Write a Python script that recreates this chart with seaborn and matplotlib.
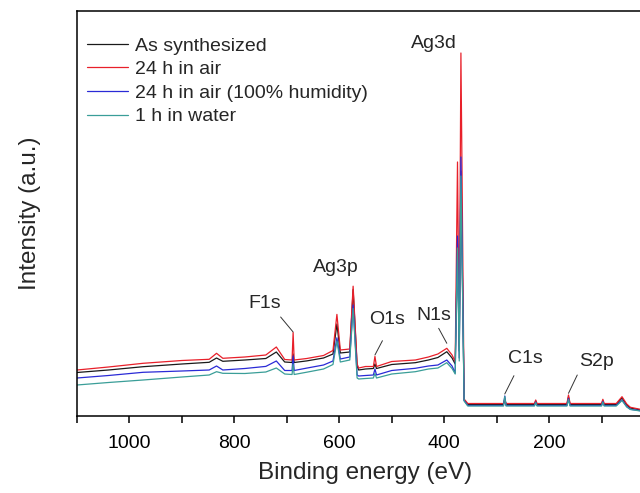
import numpy as np
import pandas as pd
import matplotlib
matplotlib.use("Agg")
import matplotlib.pyplot as plt
from matplotlib.ticker import FixedLocator, NullLocator
import seaborn as sns

# XPS survey spectra (binding energy in eV, intensity in arbitrary units)
energy = [1100, 1040, 974, 900, 848, 834, 822, 780, 740, 720, 704, 690, 688, 686,
          662, 630, 612, 604.5, 598, 580, 573.6, 566, 563, 550, 535, 532, 529,
          500, 455, 430, 412, 395, 385, 379, 374.6, 371.3, 368.1, 362, 355,
          300, 287, 284.5, 282, 228, 225.5, 223, 166, 163, 160, 100, 97.5, 95,
          72, 61, 52, 45, 26, 0]

as_synthesized = [43.5, 46, 49.3, 52, 53.7, 58, 54.7, 56, 57.5, 64, 54, 53.5, 62, 53.5,
                  55.1, 58, 62, 92, 63, 64, 126.4, 50, 46, 47, 47.5, 52, 47.5,
                  51.5, 53.3, 56, 58.5, 64.3, 58, 52, 172, 65, 245, 16, 11.5,
                  11.5, 11.5, 17, 11.5, 11.5, 15, 11.5, 11.5, 19, 11.5, 11.5, 15.5, 11.5,
                  11.5, 18, 11, 8, 6, 5.5]

air_24h = [46, 49, 52.7, 55.5, 56.7, 62.7, 57.7, 59, 61, 69, 56.5, 56, 83.4, 56,
           57.5, 60.5, 65.5, 101.6, 66, 67, 129.8, 52, 48, 49.5, 49.5, 59.5, 49.5,
           54.5, 56, 59, 62, 67.7, 61, 54.3, 254, 70, 363, 17, 12.5,
           12.5, 12.5, 16, 12.5, 12.5, 16, 12.5, 12.5, 21, 12.5, 12.5, 16.7, 12.5,
           12.5, 19.3, 12, 8.7, 6.7, 6]

air_humid = [38, 40.5, 43.7, 45, 46, 50, 46, 47.5, 49.6, 55, 45.5, 45.5, 60, 45.5,
             47.9, 51, 55, 78.2, 57, 59, 111, 41, 40, 40.5, 41, 47, 41,
             45.5, 47.7, 50, 51, 56, 50, 43, 180, 58, 259, 15.5, 10.5,
             10.5, 10.5, 20, 10.5, 10.5, 14, 10.5, 10.5, 17.5, 10.5, 10.5, 14.5, 10.5,
             10.5, 16, 9.5, 6.7, 5.3, 5]

water_1h = [31, 33.5, 36, 39, 41, 44.3, 42.7, 42.5, 44, 48, 42, 41.5, 52, 41.5,
            43.8, 47, 51.5, 75, 54, 56, 107.5, 38, 37, 37.5, 38, 42.5, 38,
            42, 44.3, 47, 48, 53.3, 47.5, 42, 168, 55, 240, 15, 10,
            10, 10, 19.5, 10, 10, 13.5, 10, 10, 16.5, 10, 10, 14, 10,
            10, 15.5, 9, 6.5, 5, 4.7]

series_names = ["As synthesized", "24 h in air", "24 h in air (100% humidity)", "1 h in water"]
series_colors = ["#1a1a1a", "#e8202a", "#2a2ad6", "#3a9e98"]

# Axis ticks
major_ticks = [1000, 800, 600, 400, 200]
minor_ticks = [1100, 900, 700, 500, 300, 100]

# Peak assignments and where their leader lines point
peak_labels = ["Ag3d", "Ag3p", "F1s", "O1s", "N1s", "C1s", "S2p"]
peak_energies = [368.1, 573.6, 688, 532, 395, 284.5, 163]

df = pd.concat([
    pd.DataFrame({"Binding energy": energy, "Intensity": vals, "Sample": name})
    for name, vals in zip(series_names, [as_synthesized, air_24h, air_humid, water_1h])
], ignore_index=True)

sns.set_style("ticks")
plt.rcParams["font.family"] = ["Liberation Sans", "DejaVu Sans"]

fig = plt.figure(figsize=(6.4, 4.93), dpi=100)
ax = fig.add_axes([77 / 640, 77 / 493, 577 / 640, 405 / 493])

sns.lineplot(data=df, x="Binding energy", y="Intensity", hue="Sample",
             hue_order=series_names, palette=series_colors, linewidth=0.9,
             estimator=None, ax=ax)

ax.set_xlim(1100, 0)
ax.set_ylim(0, 405)
ax.xaxis.set_major_locator(FixedLocator(major_ticks))
ax.xaxis.set_minor_locator(FixedLocator(minor_ticks))
ax.yaxis.set_major_locator(NullLocator())
ax.tick_params(axis="x", which="both", direction="out", length=5, width=1.1,
               labelsize=14, pad=9, colors="black")
for side in ["left", "bottom", "top"]:
    ax.spines[side].set_linewidth(1.1)
    ax.spines[side].set_color("black")
ax.spines["right"].set_visible(False)

ax.set_xlabel("Binding energy (eV)", fontsize=17.5, labelpad=7)
ax.set_ylabel("Intensity (a.u.)", fontsize=17.5, labelpad=26)

handles, labels = ax.get_legend_handles_labels()
ax.legend(handles, labels, loc="upper left", bbox_to_anchor=(0.0173, 0.936),
          frameon=False, fontsize=14, handlelength=2.1, handletextpad=0.36,
          labelspacing=0.31, borderaxespad=0, borderpad=0)

# Peak labels: text position, and leader line start (None when no line)
label_layout = {
    "Ag3d": ((419.0, 372.5), None),
    "Ag3p": ((606.0, 148.0), None),
    "F1s": ((741.3, 112.6), (711.8, 99.0)),
    "O1s": ((509.0, 96.0), (517.7, 75.3)),
    "N1s": ((420.0, 100.0), (410.5, 87.7)),
    "C1s": ((244.8, 57.5), (267.0, 40.3)),
    "S2p": ((109.5, 55.0), (146.3, 41.0)),
}
line_tips = {"F1s": 84.0, "O1s": 61.0, "N1s": 72.7, "C1s": 22.0, "S2p": 22.7}

for name, e_peak in zip(peak_labels, peak_energies):
    (tx, ty), start = label_layout[name]
    ax.text(tx, ty, name, fontsize=14, ha="center", va="center")
    if start is not None:
        ax.annotate("", xy=(e_peak, line_tips[name]), xytext=start,
                    arrowprops=dict(arrowstyle="-", lw=0.7, color="#333333",
                                    shrinkA=0, shrinkB=0))

fig.savefig("out.png", dpi=100)
